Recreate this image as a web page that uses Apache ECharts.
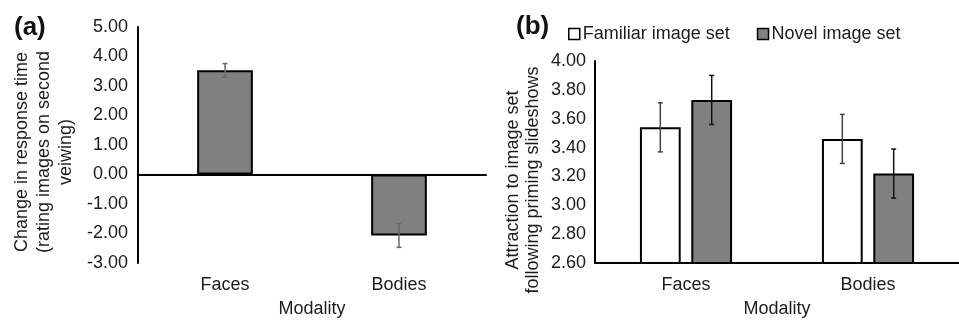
<!DOCTYPE html>
<html>
<head>
<meta charset="utf-8">
<script src="https://cdn.jsdelivr.net/npm/echarts@6/dist/echarts.min.js"></script>
<style>
html,body{margin:0;padding:0;background:#fff;}
#chart{width:959px;height:323px;}
</style>
</head>
<body>
<div id="chart"></div>
<script>
// ---- data ----
var categories = ['Faces', 'Bodies'];
// panel (a)
var aValues = [3.53, -2.07];
var aErrors = [0.23, 0.40];
var aTicks = {min: -3, max: 5, interval: 1};
// panel (b)
var seriesNames = ['Familiar image set', 'Novel image set'];
var familiarValues = [3.54, 3.46];
var familiarErrors = [0.17, 0.17];
var novelValues = [3.73, 3.22];
var novelErrors = [0.17, 0.17];
var bTicks = {min: 2.6, max: 4.0, interval: 0.2};

var FONT = "'Liberation Sans', Arial, sans-serif";
var TXT = '#1c1c1c';

function errData(vals, errs) {
  return vals.map(function (v, i) { return [i, v - errs[i], v + errs[i]]; });
}

function makeErrRender(offsetFrac, color, cap) {
  return function (params, api) {
    var band = api.size([1, 0])[0];
    var idx = api.value(0);
    var lo = api.coord([idx, api.value(1)]);
    var hi = api.coord([idx, api.value(2)]);
    var x = lo[0] + offsetFrac * band;
    var st = {stroke: color, lineWidth: 1.5};
    return {
      type: 'group',
      children: [
        {type: 'line', shape: {x1: x, y1: lo[1], x2: x, y2: hi[1]}, style: st},
        {type: 'line', shape: {x1: x - cap, y1: lo[1], x2: x + cap, y2: lo[1]}, style: st},
        {type: 'line', shape: {x1: x - cap, y1: hi[1], x2: x + cap, y2: hi[1]}, style: st}
      ]
    };
  };
}

var bBarFrac = 0.224, bGapFrac = 0.26;
var bOffset = (bBarFrac * (1 + bGapFrac)) / 2;

var chart = echarts.init(document.getElementById('chart'), null, {renderer: 'canvas'});
var option = {
  animation: false,
  textStyle: {fontFamily: FONT},
  grid: [
    {left: 138, top: 27, width: 348, height: 240, containLabel: false},
    {left: 595, top: 61, width: 375, height: 206, containLabel: false}
  ],
  legend: {
    data: seriesNames,
    left: 563, top: 20,
    itemWidth: 11, itemHeight: 11, itemGap: 27,
    icon: 'rect',
    itemStyle: {borderWidth: 1.5, borderColor: '#000'},
    textStyle: {fontSize: 18, color: TXT, fontFamily: FONT, padding: [0, 0, 0, -2]}
  },
  xAxis: [
    { // zero line for panel a
      type: 'category', data: categories, gridIndex: 0, position: 'bottom',
      axisLine: {onZero: true, lineStyle: {color: '#000', width: 2}},
      axisTick: {show: false}, axisLabel: {show: false}, splitLine: {show: false}
    },
    { // bottom labels for panel a
      type: 'category', data: categories, gridIndex: 0, position: 'bottom',
      axisLine: {show: false, onZero: false}, axisTick: {show: false},
      axisLabel: {fontSize: 18, color: TXT, margin: 13, fontFamily: FONT},
      name: 'Modality', nameLocation: 'middle', nameGap: 37,
      nameTextStyle: {fontSize: 18, color: TXT, fontFamily: FONT}
    },
    { // panel b
      type: 'category', data: categories, gridIndex: 1, position: 'bottom',
      axisLine: {onZero: false, lineStyle: {color: '#000', width: 2}},
      axisTick: {show: false},
      axisLabel: {fontSize: 18, color: TXT, margin: 13, fontFamily: FONT},
      name: 'Modality', nameLocation: 'middle', nameGap: 37,
      nameTextStyle: {fontSize: 18, color: TXT, fontFamily: FONT}
    }
  ],
  yAxis: [
    {
      type: 'value', gridIndex: 0, min: aTicks.min, max: aTicks.max, interval: aTicks.interval,
      axisLine: {show: true, onZero: false, lineStyle: {color: '#000', width: 2}},
      axisTick: {show: false}, splitLine: {show: false},
      axisLabel: {fontSize: 18, color: TXT, margin: 10, fontFamily: FONT,
        formatter: function (v) { return v.toFixed(2); }}
    },
    {
      type: 'value', gridIndex: 1, min: bTicks.min, max: bTicks.max, interval: bTicks.interval,
      axisLine: {show: true, onZero: false, lineStyle: {color: '#000', width: 2}},
      axisTick: {show: false}, splitLine: {show: false},
      axisLabel: {fontSize: 18, color: TXT, margin: 9, fontFamily: FONT,
        formatter: function (v) { return v.toFixed(2); }}
    }
  ],
  series: [
    {
      type: 'bar', name: 'Change', xAxisIndex: 0, yAxisIndex: 0, data: aValues,
      barWidth: '32%',
      itemStyle: {color: '#808080', borderColor: '#000', borderWidth: 2}
    },
    {
      type: 'custom', xAxisIndex: 0, yAxisIndex: 0, data: errData(aValues, aErrors),
      renderItem: makeErrRender(0, '#6a6a6a', 2.5), z: 10
    },
    {
      type: 'bar', name: seriesNames[0], xAxisIndex: 2, yAxisIndex: 1, data: familiarValues,
      barWidth: (bBarFrac * 100) + '%', barGap: (bGapFrac * 100) + '%',
      itemStyle: {color: '#ffffff', borderColor: '#000', borderWidth: 2}
    },
    {
      type: 'bar', name: seriesNames[1], xAxisIndex: 2, yAxisIndex: 1, data: novelValues,
      barWidth: (bBarFrac * 100) + '%', barGap: (bGapFrac * 100) + '%',
      itemStyle: {color: '#808080', borderColor: '#000', borderWidth: 2}
    },
    {
      type: 'custom', xAxisIndex: 2, yAxisIndex: 1, data: errData(familiarValues, familiarErrors),
      renderItem: makeErrRender(-bOffset, '#444', 2.5), z: 10
    },
    {
      type: 'custom', xAxisIndex: 2, yAxisIndex: 1, data: errData(novelValues, novelErrors),
      renderItem: makeErrRender(bOffset, '#111', 2.5), z: 10
    }
  ],
  graphic: [
    {type: 'text', left: 14, top: 15, style: {text: '(a)', font: "bold 26px 'Liberation Sans', Arial, sans-serif", fill: '#111'}},
    {type: 'text', left: 516, top: 14, style: {text: '(b)', font: "bold 26px 'Liberation Sans', Arial, sans-serif", fill: '#111'}},
    {type: 'text', x: 44, y: 152, rotation: Math.PI / 2,
      style: {text: 'Change in response time\n(rating images on second\nveiwing)', fontSize: 18, fontFamily: FONT,
        fill: TXT, align: 'center', verticalAlign: 'middle', lineHeight: 22}},
    {type: 'text', x: 523, y: 180, rotation: Math.PI / 2,
      style: {text: 'Attraction to image set\nfollowing priming slideshows', fontSize: 18, fontFamily: FONT,
        fill: TXT, align: 'center', verticalAlign: 'middle', lineHeight: 20}}
  ]
};
chart.setOption(option);
</script>
</body>
</html>
